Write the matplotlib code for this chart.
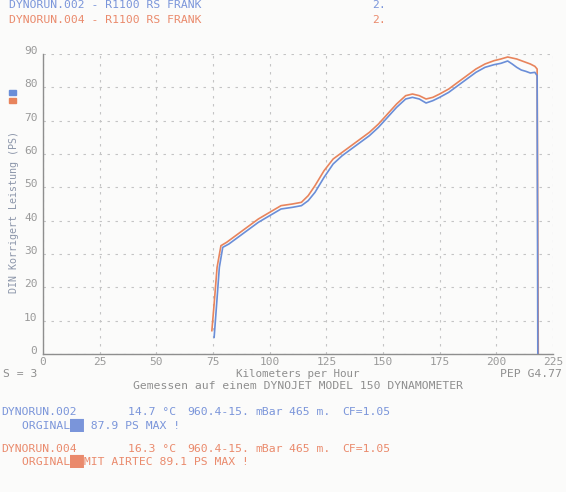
import matplotlib
matplotlib.use("Agg")
import matplotlib.pyplot as plt
import matplotlib.transforms as mtransforms

plt.rcParams['font.family'] = 'DejaVu Sans Mono'

# run DYNORUN.002 (original)
blue_kmh = [75.5, 76.5, 77.8, 79.3, 82, 86, 90, 95, 100, 105, 110, 114, 117, 120,
            124, 128, 132, 136, 140, 144, 148, 152, 156, 160, 163, 166, 169, 172,
            175, 179, 183, 187, 191, 195, 199, 202, 205, 207, 209, 211, 213, 215,
            217, 218, 218.3]
blue_ps = [5, 14, 26, 32, 33, 35, 37, 39.5, 41.5, 43.5, 44, 44.5, 46, 48.5,
           53, 57, 59.5, 61.5, 63.5, 65.5, 68, 71, 74, 76.5, 77, 76.5, 75.3, 76,
           77, 78.5, 80.5, 82.5, 84.5, 86, 86.8, 87.2, 87.9, 87, 86, 85.2, 84.8, 84.3,
           84.5, 83.5, 0]

# run DYNORUN.004 (with airtec)
red_kmh = [74.5, 75.5, 76.8, 78.5, 81, 85, 90, 95, 100, 105, 110, 114, 117, 120,
           124, 128, 132, 136, 140, 144, 148, 152, 156, 160, 163, 166, 169, 172,
           175, 179, 183, 187, 191, 195, 199, 202, 205, 207, 209, 211, 213, 215,
           217, 218, 218.5]
red_ps = [7, 15, 26, 32.5, 33.5, 35.5, 38, 40.5, 42.5, 44.5, 45, 45.5, 47.5, 50.5,
          55, 58.5, 60.5, 62.5, 64.5, 66.5, 69, 72, 75, 77.5, 78, 77.5, 76.5, 77,
          78, 79.5, 81.5, 83.5, 85.5, 87, 88, 88.5, 89.1, 88.8, 88.5, 88, 87.5, 87,
          86.3, 85.5, 0]

x_ticks = [0, 25, 50, 75, 100, 125, 150, 175, 200, 225]
y_ticks = [0, 10, 20, 30, 40, 50, 60, 70, 80, 90]

BLUE = '#6a8ed8'
RED = '#e8845c'
BLUE_TXT = '#7a95da'
RED_TXT = '#ea8a6c'
GRAY = '#8e8e8e'
W, H = 566, 492

fig = plt.figure(figsize=(W / 100, H / 100), dpi=100, facecolor='#fbfbfa')
ax = fig.add_axes([43 / W, (H - 354) / H, (553 - 43) / W, (354 - 54) / H])
ax.set_facecolor('#fbfbfa')

ax.plot(blue_kmh, blue_ps, color=BLUE, lw=1.2, zorder=3)
ax.plot(red_kmh, red_ps, color=RED, lw=1.2, zorder=2)

ax.set_xlim(0, 225)
ax.set_ylim(0, 90)
ax.set_xticks(x_ticks)
ax.set_yticks(y_ticks)
ax.grid(True, color='#c4c4c4', lw=0.8, linestyle=(0, (2.2, 5)))
ax.tick_params(length=0, labelsize=8, labelcolor='#9a9a9a')
ax.tick_params(axis='x', pad=2)
ax.tick_params(axis='y', pad=4)
for side in ['top', 'right']:
    ax.spines[side].set_visible(False)
for side in ['left', 'bottom']:
    ax.spines[side].set_color(GRAY)
    ax.spines[side].set_linewidth(1.0)

# y labels sit a little above their grid line on the print
shift = mtransforms.ScaledTranslation(0, 4 / 100, fig.dpi_scale_trans)
for lab in ax.get_yticklabels():
    lab.set_transform(lab.get_transform() + shift)


def put(x, y, s, color=GRAY, **kw):
    fig.text(x / W, 1 - y / H, s, color=color, fontsize=kw.pop('fontsize', 8.2),
             va=kw.pop('va', 'center'), **kw)


# header
put(9, 5, 'DYNORUN.002 - R1100 RS FRANK', BLUE_TXT)
put(372, 5, '2.', BLUE_TXT)
put(9, 20, 'DYNORUN.004 - R1100 RS FRANK', RED_TXT)
put(372, 20, '2.', RED_TXT)

# legend marks
fig.patches.append(plt.Rectangle((9 / W, 1 - 95 / H), 7 / W, 5 / H,
                                 transform=fig.transFigure, color=BLUE, figure=fig))
fig.patches.append(plt.Rectangle((9 / W, 1 - 103 / H), 7 / W, 5 / H,
                                 transform=fig.transFigure, color=RED, figure=fig))

put(14, 212, 'DIN Korrigert Leistung (PS)', '#8c96aa', rotation=90,
    ha='center', fontsize=7.2)

# axis footer
put(3, 374, 'S = 3')
put(298, 374, 'Kilometers per Hour', ha='center', fontsize=7.8)
put(562, 374, 'PEP G4.77', ha='right')
put(298, 386, 'Gemessen auf einem DYNOJET MODEL 150 DYNAMOMETER', ha='center')

# run details
put(1, 412, 'DYNORUN.002', BLUE_TXT)
put(128, 412, '14.7 °C', BLUE_TXT)
put(187, 412, '960.4-15.', BLUE_TXT)
put(255, 412, 'mBar', BLUE_TXT)
put(289, 412, '465 m.', BLUE_TXT)
put(342, 412, 'CF=1.05', BLUE_TXT)
put(22, 425, 'ORGINAL██ 87.9 PS MAX !', BLUE_TXT)

put(1, 449, 'DYNORUN.004', RED_TXT)
put(128, 449, '16.3 °C', RED_TXT)
put(187, 449, '960.4-15.', RED_TXT)
put(255, 449, 'mBar', RED_TXT)
put(289, 449, '465 m.', RED_TXT)
put(342, 449, 'CF=1.05', RED_TXT)
put(22, 461, 'ORGINAL██MIT AIRTEC 89.1 PS MAX !', RED_TXT)

fig.savefig('out.png', dpi=100, facecolor=fig.get_facecolor())
